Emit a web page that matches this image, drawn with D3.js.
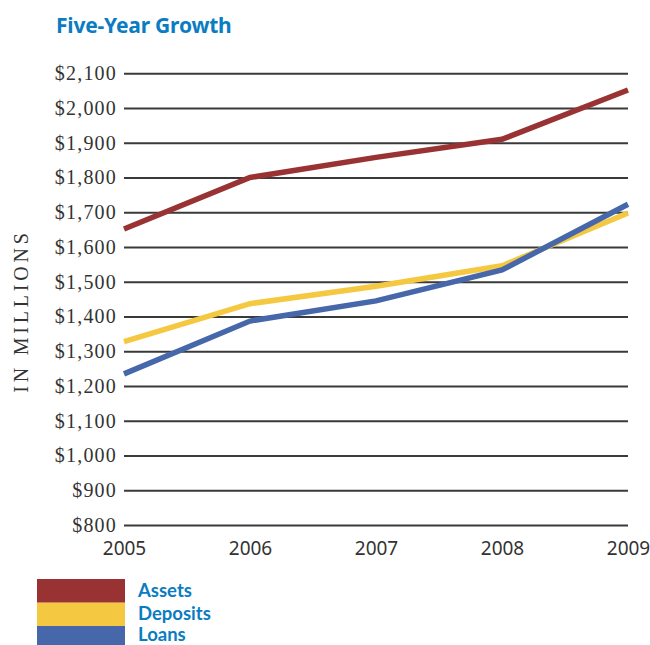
<!DOCTYPE html>
<html><head><meta charset="utf-8">
<script src="https://cdn.jsdelivr.net/npm/d3@7"></script>
<style>body{margin:0;background:#fff}svg{display:block}</style>
</head><body><svg id="c" width="650" height="645"></svg>
<script>
const years = [2005, 2006, 2007, 2008, 2009];
const assets = [1652, 1800, 1858, 1910, 2052];
const deposits = [1328, 1437, 1487, 1546, 1698];
const loans = [1235, 1387, 1445, 1534, 1723];
const yTicks = [800, 900, 1000, 1100, 1200, 1300, 1400, 1500, 1600, 1700, 1800, 1900, 2000, 2100];
const seriesNames = ["Assets", "Deposits", "Loans"];
const seriesColors = ["#993233", "#f5c842", "#4667a9"];

const svg = d3.select("#c");
const x = d3.scalePoint().domain(years).range([124, 628]);
const y = d3.scaleLinear().domain([800, 2100]).range([525, 73.3]);

svg.append("text").attr("x", 56).attr("y", 33).text("Five-Year Growth")
  .attr("font-family", "'Noto Sans', sans-serif").attr("font-weight", "bold")
  .attr("font-size", 21).attr("letter-spacing", -0.2).attr("fill", "#0a7cc1");

// grid
const yAxis = d3.axisLeft(y).tickValues(yTicks).tickSize(-504)
  .tickFormat(d => "$" + d3.format(",")(d)).tickPadding(8);
const ga = svg.append("g").attr("transform", "translate(124,0)").call(yAxis);
ga.select(".domain").remove();
ga.selectAll(".tick line").attr("stroke", "#3a3a3a").attr("stroke-width", 2);
ga.selectAll(".tick text").attr("font-family", "'Liberation Serif', serif")
  .attr("font-size", 20).attr("fill", "#333").attr("letter-spacing", 1.2)
  .attr("x", -7);

const xAxis = d3.axisBottom(x).tickSize(0).tickPadding(0);
const gx = svg.append("g").attr("transform", "translate(0,541)").call(xAxis);
gx.select(".domain").remove();
gx.selectAll(".tick text").attr("font-family", "'Noto Sans', sans-serif")
  .attr("font-size", 19).attr("fill", "#333");

svg.append("text").attr("transform", "translate(28,311) rotate(-90)")
  .attr("text-anchor", "middle").text("IN MILLIONS")
  .attr("font-family", "'Liberation Serif', serif").attr("font-size", 20)
  .attr("letter-spacing", 3.8).attr("fill", "#333");

const line = d3.line().x((d, i) => x(years[i])).y(d => y(d));
[assets, deposits, loans].forEach((s, i) => {
  svg.append("path").datum(s).attr("d", line).attr("fill", "none")
    .attr("stroke", seriesColors[i]).attr("stroke-width", 5.5);
});

// legend
const ly = [579, 602.7, 626];
const lt = [596.5, 619.5, 641];
seriesNames.forEach((n, i) => {
  svg.append("rect").attr("x", 37).attr("y", ly[i]).attr("width", 88)
    .attr("height", i === 2 ? 30 : 23.7).attr("fill", seriesColors[i]);
  svg.append("text").attr("x", 138).attr("y", lt[i]).text(n)
    .attr("font-family", "Lato, sans-serif").attr("font-weight", "bold")
    .attr("font-size", 18.5).attr("fill", "#0a7cc1");
});
</script></body></html>
